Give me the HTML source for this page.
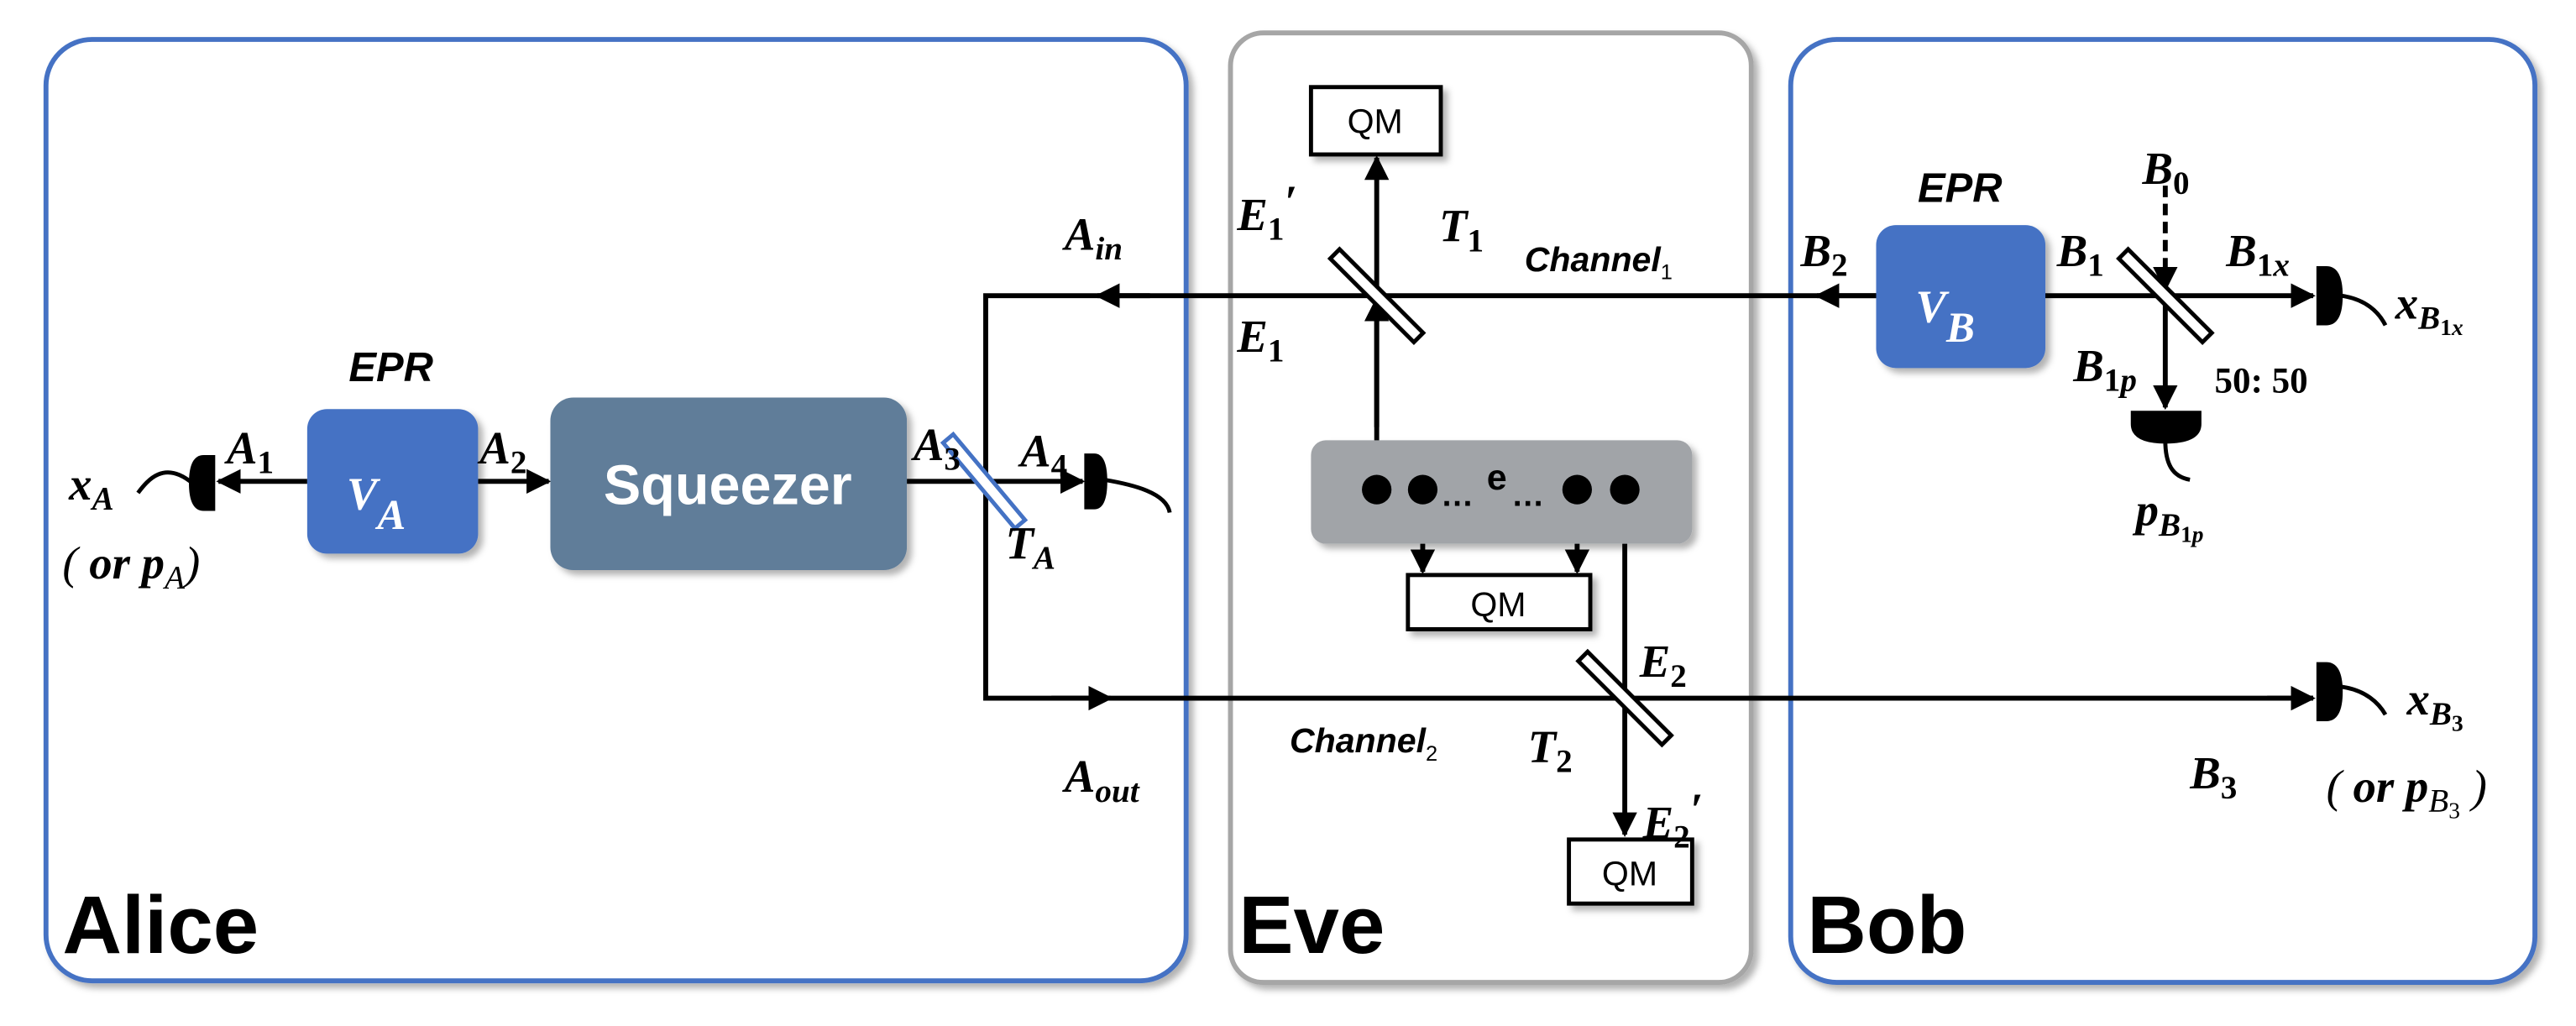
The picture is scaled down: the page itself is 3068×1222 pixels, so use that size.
<!DOCTYPE html>
<html><head><meta charset="utf-8"><style>
html,body{margin:0;padding:0;background:#fff;}
svg{display:block}
.m{font-family:"Liberation Serif",serif;font-style:italic;font-weight:bold;font-size:28px;fill:#000}
.s{font-size:20px}
.d{font-size:20px;font-style:normal}
.ss{font-size:14px}
.sans{font-family:"Liberation Sans",sans-serif;}
</style></head><body>
<svg width="3068" height="1222" viewBox="0 0 1568 624.5" xmlns="http://www.w3.org/2000/svg">
<defs>
<marker id="ar" viewBox="0 0 10 10" refX="9" refY="5" markerWidth="5" markerHeight="5" orient="auto"><path d="M0,0 L10,5 L0,10 z" fill="#000"/></marker>
<filter id="sh" x="-10%" y="-10%" width="130%" height="130%"><feDropShadow dx="3" dy="3" stdDeviation="2" flood-color="#000" flood-opacity="0.3"/></filter>
</defs>
<rect x="28" y="24" width="694" height="573" rx="28" fill="#fff" stroke="#4472c4" stroke-width="3" filter="url(#sh)"/>
<rect x="749" y="20" width="317" height="578" rx="20" fill="#fff" stroke="#a6a6a6" stroke-width="3" filter="url(#sh)"/>
<rect x="1090" y="24" width="453" height="574" rx="28" fill="#fff" stroke="#4472c4" stroke-width="3" filter="url(#sh)"/>
<text x="38" y="580" class="sans" font-weight="bold" font-size="50" fill="#000">Alice</text>
<text x="754" y="580" class="sans" font-weight="bold" font-size="50" fill="#000">Eve</text>
<text x="1100" y="580" class="sans" font-weight="bold" font-size="50" fill="#000">Bob</text>

<g stroke="#000" stroke-width="3" fill="none">
<line x1="187" y1="293" x2="133" y2="293" marker-end="url(#ar)"/>
<line x1="291" y1="293" x2="334" y2="293" marker-end="url(#ar)"/>
<line x1="552" y1="293" x2="659" y2="293" marker-end="url(#ar)"/>
<polyline points="1142,180 600,180 600,425 1408,425"/>
<line x1="700" y1="180" x2="668" y2="180" marker-end="url(#ar)"/>
<line x1="640" y1="425" x2="676" y2="425" marker-end="url(#ar)"/>
<line x1="1380" y1="425" x2="1408" y2="425" marker-end="url(#ar)"/>
<line x1="1142" y1="180" x2="1106" y2="180" marker-end="url(#ar)"/>
<line x1="838" y1="298" x2="838" y2="96" marker-end="url(#ar)"/>
<line x1="838" y1="260" x2="838" y2="182" marker-end="url(#ar)"/>
<line x1="866" y1="298" x2="866" y2="348" marker-end="url(#ar)"/>
<line x1="960" y1="298" x2="960" y2="348" marker-end="url(#ar)"/>
<line x1="989" y1="298" x2="989" y2="508" marker-end="url(#ar)"/>
<line x1="1245" y1="180" x2="1408" y2="180" marker-end="url(#ar)"/>
<line x1="1318" y1="180" x2="1318" y2="248" marker-end="url(#ar)"/>
<line x1="1318" y1="113" x2="1318" y2="176" stroke-dasharray="7,4" marker-end="url(#ar)"/>
<path d="M117,294 C100,280 90,292 84,300" stroke-width="2.5"/>
<path d="M672,292 C690,295 710,300 712,312" stroke-width="2.5"/>
<path d="M1425,180 C1440,182 1448,190 1452,198" stroke-width="2.5"/>
<path d="M1425,418 C1440,420 1448,428 1452,435" stroke-width="2.5"/>
<path d="M1318,268 C1318,282 1322,290 1333,292" stroke-width="2.5"/>
</g>
<path d="M131,277 L124,277 Q115,277 115,294 Q115,311 124,311 L131,311 Z" fill="#000"/>
<path d="M660,276 L666,276 Q674,276 674,293 Q674,310 666,310 L660,310 Z" fill="#000"/>
<path d="M1410,162 L1416,162 Q1426,162 1426,180 Q1426,198 1416,198 L1410,198 Z" fill="#000"/>
<path d="M1410,403 L1416,403 Q1426,403 1426,421 Q1426,439 1416,439 L1410,439 Z" fill="#000"/>
<path d="M1297,250 L1340,250 L1340,258 Q1340,270 1318,270 Q1297,270 1297,258 Z" fill="#000"/>
<rect x="595" y="259" width="8" height="68" transform="rotate(-40 599 293)" fill="#fff" stroke="#4472c4" stroke-width="2.5"/>
<rect x="834" y="144" width="8" height="72" transform="rotate(-45 838 180)" fill="#fff" stroke="#000" stroke-width="2.5"/>
<rect x="985" y="389" width="8" height="72" transform="rotate(-45 989 425)" fill="#fff" stroke="#000" stroke-width="2.5"/>
<rect x="1314" y="144" width="8" height="72" transform="rotate(-45 1318 180)" fill="#fff" stroke="#000" stroke-width="2.5"/>
<rect x="187" y="249" width="104" height="88" rx="12" fill="#4472c4" filter="url(#sh)"/>
<text x="211" y="310" class="m" font-size="42" style="fill:#fff">V<tspan font-size="26" dy="12">A</tspan></text>
<rect x="335" y="242" width="217" height="105" rx="14" fill="#607d99" filter="url(#sh)"/>
<text x="443" y="307" class="sans" font-weight="bold" font-size="34" fill="#fff" text-anchor="middle">Squeezer</text>
<rect x="1142" y="137" width="103" height="87" rx="12" fill="#4472c4" filter="url(#sh)"/>
<text x="1166" y="196" class="m" font-size="42" style="fill:#fff">V<tspan font-size="26" dy="12">B</tspan></text>
<rect x="798" y="268" width="232" height="63" rx="9" fill="#a1a4a8" filter="url(#sh)"/>
<g fill="#000"><circle cx="838" cy="298" r="9"/><circle cx="866" cy="298" r="9"/><circle cx="960" cy="298" r="9"/><circle cx="989" cy="298" r="9"/></g>
<text x="877" y="308" class="sans" font-weight="bold" font-size="20">…</text>
<text x="905" y="298" class="sans" font-weight="bold" font-size="22">e</text>
<text x="920" y="308" class="sans" font-weight="bold" font-size="20">…</text>
<g fill="#fff" stroke="#000" stroke-width="2.5" filter="url(#sh)">
<rect x="798" y="53" width="79" height="41"/>
<rect x="857" y="350" width="111" height="33"/>
<rect x="955" y="511" width="75" height="39"/>
</g>
<g class="sans" font-size="21" text-anchor="middle" fill="#000">
<text x="837" y="81">QM</text><text x="912" y="375">QM</text><text x="992" y="539">QM</text>
</g>
<g class="sans" font-style="italic" font-weight="bold" fill="#000">
<text x="238" y="232" font-size="25" text-anchor="middle">EPR</text>
<text x="1193" y="123" font-size="25" text-anchor="middle">EPR</text>
<text x="928" y="165" font-size="21">Channel<tspan font-size="13" dy="5" font-weight="normal" font-style="normal">1</tspan></text>
<text x="785" y="458" font-size="21">Channel<tspan font-size="13" dy="5" font-weight="normal" font-style="normal">2</tspan></text>
</g>
<g class="m">
<text x="138" y="282">A<tspan class="d" dy="6">1</tspan></text>
<text x="292" y="282">A<tspan class="d" dy="6">2</tspan></text>
<text x="556" y="280">A<tspan class="d" dy="6">3</tspan></text>
<text x="621" y="284">A<tspan class="d" dy="6">4</tspan></text>
<text x="612" y="340">T<tspan class="s" dy="6">A</tspan></text>
<text x="42" y="304">x<tspan class="s" dy="6">A</tspan></text>
<text x="38" y="352" font-weight="normal">(<tspan font-weight="bold"> or p</tspan><tspan class="s" dy="6">A</tspan><tspan dy="-6" font-weight="normal">)</tspan></text>
<text x="648" y="152">A<tspan class="s" dy="6">in</tspan></text>
<text x="648" y="482">A<tspan class="s" dy="6">out</tspan></text>
<text x="753" y="140">E<tspan class="d" dy="6">1</tspan><tspan dy="-14">′</tspan></text>
<text x="876" y="147">T<tspan class="d" dy="6">1</tspan></text>
<text x="753" y="214">E<tspan class="d" dy="6">1</tspan></text>
<text x="998" y="412">E<tspan class="d" dy="6">2</tspan></text>
<text x="930" y="464">T<tspan class="d" dy="6">2</tspan></text>
<text x="1000" y="510">E<tspan class="d" dy="6">2</tspan><tspan dy="-14">′</tspan></text>
<text x="1096" y="162">B<tspan class="d" dy="6">2</tspan></text>
<text x="1252" y="162">B<tspan class="d" dy="6">1</tspan></text>
<text x="1304" y="112">B<tspan class="d" dy="6">0</tspan></text>
<text x="1355" y="162">B<tspan class="d" dy="6">1</tspan><tspan class="s">x</tspan></text>
<text x="1262" y="232">B<tspan class="d" dy="6">1</tspan><tspan class="s">p</tspan></text>
<text x="1348" y="239" font-style="normal" font-size="22">50: 50</text>
<text x="1458" y="194">x<tspan class="s" dy="6">B</tspan><tspan class="ss" dy="4" font-style="normal">1</tspan><tspan class="ss">x</tspan></text>
<text x="1300" y="320">p<tspan class="s" dy="6">B</tspan><tspan class="ss" dy="4" font-style="normal">1</tspan><tspan class="ss">p</tspan></text>
<text x="1465" y="435">x<tspan class="s" dy="6">B</tspan><tspan class="ss" dy="4" font-style="normal">3</tspan></text>
<text x="1333" y="480">B<tspan class="d" dy="6">3</tspan></text>
<text x="1416" y="488" font-weight="normal">(<tspan font-weight="bold"> or p</tspan><tspan class="s" dy="6">B</tspan><tspan class="ss" dy="4" font-style="normal">3</tspan><tspan dy="-10" font-weight="normal">  )</tspan></text>
</g>
</svg>
</body></html>
